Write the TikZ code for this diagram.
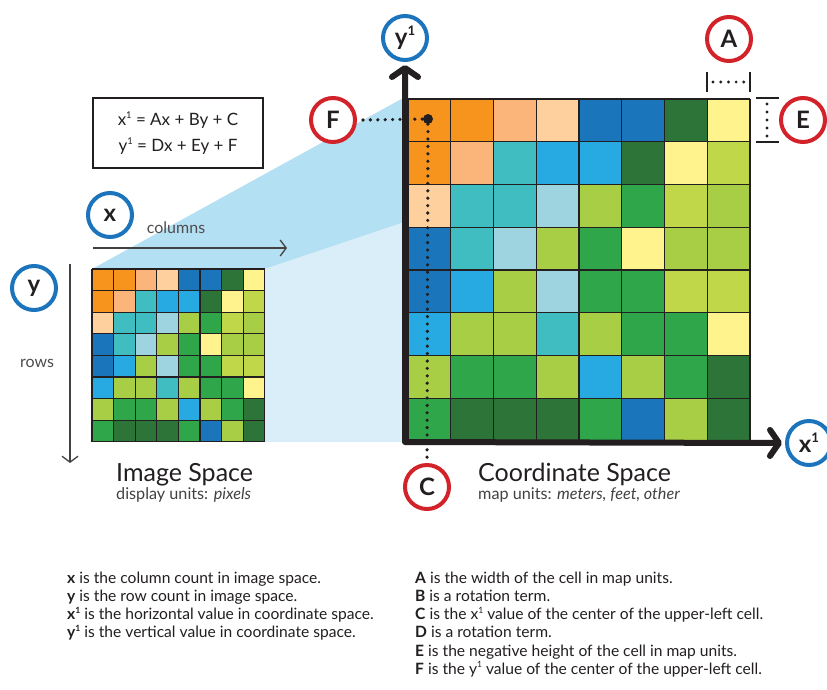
\documentclass[tikz,border=0pt]{standalone}
\usepackage{fontspec}
\setmainfont{Lato}
\usetikzlibrary{arrows.meta}
\definecolor{cO}{HTML}{F7941E}
\definecolor{cP}{HTML}{FBB57B}
\definecolor{cLP}{HTML}{FDD09E}
\definecolor{cDB}{HTML}{1B75BB}
\definecolor{cMB}{HTML}{27AAE1}
\definecolor{cT}{HTML}{40BDC1}
\definecolor{cPB}{HTML}{9DD4DF}
\definecolor{cYG}{HTML}{A8CE46}
\definecolor{cYH}{HTML}{BFD748}
\definecolor{cG}{HTML}{30A64A}
\definecolor{cDG}{HTML}{2D7439}
\definecolor{cY}{HTML}{FFF38E}
\definecolor{ink}{HTML}{231F20}
\definecolor{ringred}{HTML}{D2232A}
\definecolor{ringblue}{HTML}{1C75BC}
\definecolor{projA}{HTML}{B4E0F4}
\definecolor{projB}{HTML}{D9EEF9}
\newcommand\rastergrid[3]{%
  \foreach \rowcols [count=\j from 0] in {%
    {cO,cO,cP,cLP,cDB,cDB,cDG,cY},
    {cO,cP,cT,cMB,cMB,cDG,cY,cYH},
    {cLP,cT,cT,cPB,cYG,cG,cYH,cYG},
    {cDB,cT,cPB,cYG,cG,cY,cYG,cYG},
    {cDB,cMB,cYG,cPB,cG,cG,cYH,cYH},
    {cMB,cYG,cYG,cT,cYG,cG,cG,cY},
    {cYG,cG,cG,cYG,cMB,cYG,cG,cDG},
    {cG,cDG,cDG,cDG,cG,cDB,cYG,cDG}}{%
    \foreach \cc [count=\i from 0] in \rowcols {%
      \fill[\cc] (#1+\i*#3,#2+\j*#3) rectangle ++(#3,#3);
    }%
  }%
  \foreach \k in {0,...,8}{%
    \draw[gridline] (#1+\k*#3,#2) -- ++(0,8*#3);
    \draw[gridline] (#1,#2+\k*#3) -- ++(8*#3,0);
  }%
}
\newcommand\supone{\raisebox{0.42em}{\scalebox{0.55}{1}}}
\tikzset{
  gridline/.style={draw=ink,line width=1.3pt},
  ring/.style={circle,draw=#1,line width=4pt,minimum size=44pt,inner sep=0pt,fill=white,
    font=\fontsize{24}{24}\selectfont\bfseries,text=ink},
  axisline/.style={line width=6pt,line cap=round,line join=round,ink,
    {Straight Barb[length=9pt,width=26pt,round]}-{Straight Barb[length=9pt,width=26pt,round]}},
  thinarrow/.style={line width=1.3pt,draw=ink!85,-{Straight Barb[length=6pt,width=16pt]}},
  dotline/.style={line width=3.6pt,line cap=round,dash pattern=on 0pt off 7.4pt,ink},
  tick/.style={line width=1.4pt,ink},
  title/.style={anchor=base west,font=\fontsize{25}{25}\selectfont,text=ink,inner sep=0pt},
  subtitle/.style={anchor=base west,font=\fontsize{16.2}{16}\selectfont,text=ink!85,inner sep=0pt},
  legend/.style={anchor=base west,font=\fontsize{15.6}{16}\selectfont,text=ink,inner sep=0pt},
  smalllabel/.style={font=\fontsize{16}{16}\selectfont,text=ink!80},
}
\begin{document}
\begin{tikzpicture}[x=1pt,y=-1pt]
\useasboundingbox[fill=white] (0,0) rectangle (827,689);
% projection
\fill[projA] (92,269) -- (405,97) -- (405,222) -- (265,269) -- cycle;
\fill[projB] (265,269) -- (405,222) -- (405,442) -- (265,442) -- cycle;
% grids
\rastergrid{92}{269}{21.6}
\rastergrid{408}{99}{42.75}
% equation box
\node[draw=ink,line width=1.2pt,minimum width=170pt,minimum height=70pt,align=center,
  font=\fontsize{17}{26}\selectfont,text=ink] (eq) at (178,133)
  {x\supone{} = Ax + By + C\\ y\supone{} = Dx + Ey + F};
% image space axes
\node[ring=ringblue] (x) at (110,215) {x};
\node[ring=ringblue] (y) at (34,288) {y};
\node[smalllabel] (cols) at (176,228) {columns};
\node[smalllabel] (rows) at (37,363) {rows};
\coordinate (cs) at (93,248); \coordinate (ce) at (287,248);
\coordinate (rs) at (70,264); \coordinate (re) at (70,463);
\draw[thinarrow] (cs) -- (ce);
\draw[thinarrow] (rs) -- (re);
% coordinate space axes
\coordinate (O) at (405,442);
\node[ring=ringblue] (y1) at (405,38) {y\supone};
\node[ring=ringblue] (x1) at (809,443) {x\supone};
\draw[axisline] ([xshift=-3pt]x1.west) -- (O) -- ([yshift=-3pt]y1.south);
% labels
\node[ring=ringred] (A) at (729,39) {A};
\node[ring=ringred] (E) at (803,120) {E};
\node[ring=ringred] (F) at (333,120) {F};
\node[ring=ringred] (C) at (427,487) {C};
\node[circle,fill=ink,inner sep=0pt,minimum size=10pt] (dot) at (428,119) {};
\draw[dotline] ([xshift=6pt]F.east) -- (dot);
\draw[dotline] (dot) -- ([yshift=4pt]C.north);
% A marker
\coordinate (a1) at (707,72); \coordinate (a2) at (750,72);
\draw[tick] (a1) -- ++(0,20); \draw[tick] (a2) -- ++(0,20);
\draw[dotline,line width=3.2pt,dash pattern=on 0pt off 7.7pt] ([xshift=6pt,yshift=-10pt]a1) -- ([xshift=-6pt,yshift=-10pt]a2);
% E marker
\coordinate (e1) at (756,98); \coordinate (e2) at (756,142);
\draw[tick] (e1) -- ++(23,0); \draw[tick] (e2) -- ++(23,0);
\draw[dotline,line width=3.2pt,dash pattern=on 0pt off 8pt] ([xshift=11pt,yshift=-6pt]e1) -- ([xshift=11pt,yshift=6pt]e2);
% titles
\node[title] (ist) at (116,481) {Image Space};
\node[subtitle] (isu) at (116,499) {display units: \textit{pixels}};
\node[title] (cst) at (478,481) {Coordinate Space};
\node[subtitle] (csu) at (478,499) {map units: \textit{meters, feet, other}};
% legend left
\node[legend] (l1) at (67,583) {\textbf{x} is the column count in image space.};
\node[legend] (l2) at (67,601.3) {\textbf{y} is the row count in image space.};
\node[legend] (l3) at (67,619.6) {\textbf{x\supone} is the horizontal value in coordinate space.};
\node[legend] (l4) at (67,637.9) {\textbf{y\supone} is the vertical value in coordinate space.};
% legend right
\node[legend] (r1) at (415,583) {\textbf{A} is the width of the cell in map units.};
\node[legend] (r2) at (415,601.3) {\textbf{B} is a rotation term.};
\node[legend] (r3) at (415,619.6) {\textbf{C} is the x\supone{} value of the center of the upper-left cell.};
\node[legend] (r4) at (415,637.9) {\textbf{D} is a rotation term.};
\node[legend] (r5) at (415,656.2) {\textbf{E} is the negative height of the cell in map units.};
\node[legend] (r6) at (415,674.5) {\textbf{F} is the y\supone{} value of the center of the upper-left cell.};
\end{tikzpicture}
\end{document}
